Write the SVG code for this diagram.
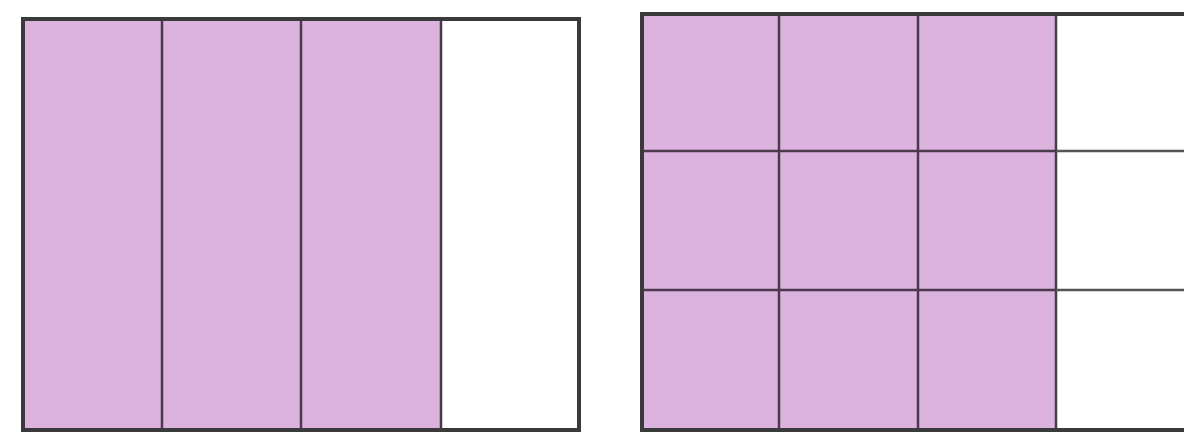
<svg xmlns="http://www.w3.org/2000/svg" width="1184" height="438" viewBox="0 0 1184 438">
<style>
.fill{fill:#dcb2df;stroke:none}
.ln{stroke:#4a3a4c;stroke-width:2.5;fill:none}
.ol{stroke:#3a3a3a;stroke-width:4;fill:none}
.g{stroke:#555;stroke-width:2.5}
</style>
<rect width="1184" height="438" fill="#fff"/>
<g id="left">
<rect class="fill" x="23" y="20" width="419" height="410"/>
<line class="ln" x1="162" y1="20" x2="162" y2="430"/>
<line class="ln" x1="301" y1="20" x2="301" y2="430"/>
<line class="ln" x1="441" y1="20" x2="441" y2="430"/>
<rect class="ol" x="23" y="19" width="556" height="411"/>
</g>
<g id="right">
<rect class="fill" x="642" y="14" width="414" height="416"/>
<line class="ln" x1="779" y1="14" x2="779" y2="430"/>
<line class="ln" x1="918" y1="14" x2="918" y2="430"/>
<line class="ln" x1="1056" y1="14" x2="1056" y2="430"/>
<line class="ln" x1="642" y1="151" x2="1056" y2="151"/>
<line class="ln" x1="642" y1="290" x2="1056" y2="290"/>
<line class="g" x1="1056" y1="151" x2="1184" y2="151"/>
<line class="g" x1="1056" y1="290" x2="1184" y2="290"/>
<path class="ol" d="M1190 14 H642 V430 H1190"/>
</g>
</svg>
